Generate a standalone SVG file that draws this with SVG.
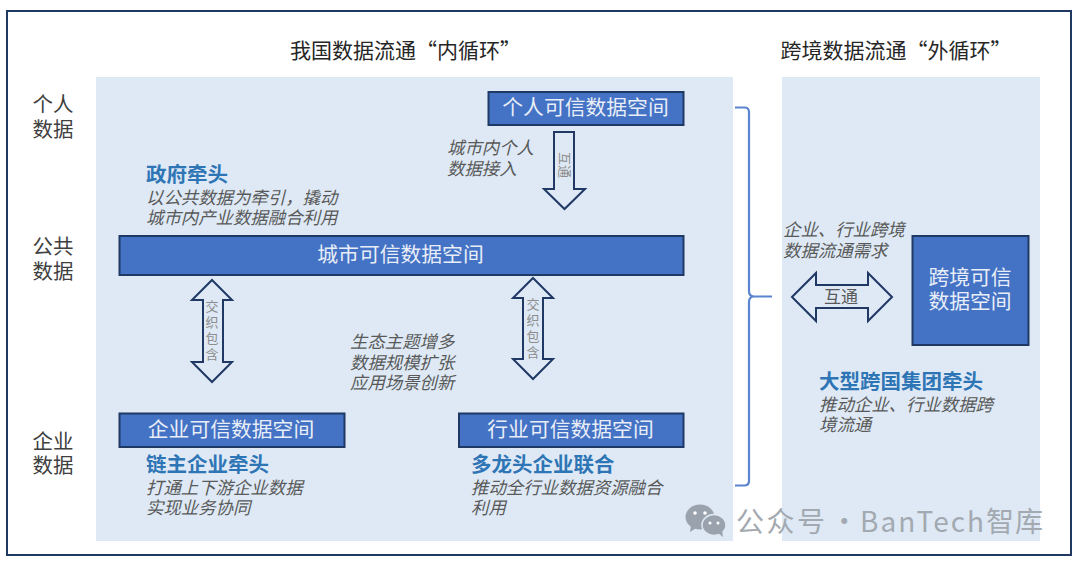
<svg xmlns="http://www.w3.org/2000/svg" width="1080" height="564" viewBox="0 0 1080 564">
<style>
text{font-family:"Noto Sans CJK SC","Noto Sans",sans-serif}
.h{font-size:21px;fill:#262626;text-anchor:middle}
.s{font-size:20.500px;fill:#404040}
.box{fill:#4472c4;stroke:#1f3864;stroke-width:2}
.bt{font-size:20.800px;fill:#e8eef8;text-anchor:middle}
.lead{font-size:20.500px;font-weight:700;fill:#2e75b6}
.it{font-size:17.400px;font-style:italic;fill:#595959}
.ar{fill:#dee9f5;stroke:#1f3864;stroke-width:2}
.al{font-size:13px;fill:#8c8c8c;text-anchor:middle}
</style>
<rect width="1080" height="564" fill="#fff"/>
<rect x="7" y="11" width="1064" height="544" fill="#fff" stroke="#1f3864" stroke-width="2"/>
<g id="inner-panel"><rect x="96" y="77" width="637" height="464" fill="#dee9f5"/></g>
<g id="outer-panel"><rect x="782" y="77" width="258" height="464" fill="#dee9f5"/></g>
<g id="headings">
<text class="h" x="405.500" y="58">我国数据流通“内循环”</text>
<text class="h" x="896" y="58">跨境数据流通“外循环”</text>
<text class="s" x="32.500" y="112">个人<tspan x="32.500" dy="25">数据</tspan></text>
<text class="s" x="32.500" y="254">公共<tspan x="32.500" dy="25">数据</tspan></text>
<text class="s" x="32.500" y="449">企业<tspan x="32.500" dy="24">数据</tspan></text>
</g>
<g id="personal-space"><rect class="box" x="488.500" y="92" width="195" height="33"/><text class="bt" x="585.500" y="115">个人可信数据空间</text></g>
<g id="city-space"><rect class="box" x="119.500" y="236" width="564" height="39"/><text class="bt" x="400.500" y="262">城市可信数据空间</text></g>
<g id="enterprise-space"><rect class="box" x="119.500" y="413.500" width="225" height="33.500"/><text class="bt" x="231" y="437">企业可信数据空间</text></g>
<g id="industry-space"><rect class="box" x="459" y="413.500" width="224.500" height="33.500"/><text class="bt" x="570.500" y="437">行业可信数据空间</text></g>
<g id="cross-border-space"><rect class="box" x="912.500" y="236" width="116" height="109"/><text class="bt" x="970" y="285">跨境可信<tspan x="970" dy="24">数据空间</tspan></text></g>
<g id="connectors">
<path d="M735 107.500H745Q749 108 749 112V291Q749 296.500 754 296.500H772M754 296.500Q749 296.500 749 302V481Q749 485 745 485.500H735" fill="none" stroke="#5b83cf" stroke-width="2.200"/>
<path class="ar" d="M554 132H574V189H585L564.500 209L544 189H554Z"/>
<path class="ar" d="M212 280L232 300H223V362H232L212 382L192 362H203V300H192Z"/>
<path class="ar" d="M533 278L553 298H543V359H553L533 379L513 359H523V298H513Z"/>
<path class="ar" d="M792 297L816 273V285H868V273L892 297L868 321V308H816V321Z"/>
<text class="al" transform="translate(564.500 165) rotate(90)" x="0" y="4.500">互通</text>
<text class="al" x="212" y="311">交<tspan x="212" dy="16">织</tspan><tspan x="212" dy="16">包</tspan><tspan x="212" dy="16">含</tspan></text>
<text class="al" x="533" y="309">交<tspan x="533" dy="16">织</tspan><tspan x="533" dy="16">包</tspan><tspan x="533" dy="16">含</tspan></text>
<text x="841" y="303" font-size="17" fill="#595959" text-anchor="middle">互通</text>
</g>
<g id="annotations">
<text class="it" x="447" y="154">城市内个人<tspan x="447" dy="21">数据接入</tspan></text>
<text class="lead" x="146" y="182">政府牵头</text>
<text class="it" x="146" y="204">以公共数据为牵引，撬动<tspan x="146" dy="20">城市内产业数据融合利用</tspan></text>
<text class="it" x="350" y="348">生态主题增多<tspan x="350" dy="20.500">数据规模扩张</tspan><tspan x="350" dy="20.500">应用场景创新</tspan></text>
<text class="lead" x="146" y="472">链主企业牵头</text>
<text class="it" x="146" y="494">打通上下游企业数据<tspan x="146" dy="20">实现业务协同</tspan></text>
<text class="lead" x="471" y="472">多龙头企业联合</text>
<text class="it" x="471" y="494">推动全行业数据资源融合<tspan x="471" dy="20">利用</tspan></text>
<text class="it" x="783" y="236">企业、行业跨境<tspan x="783" dy="20.500">数据流通需求</tspan></text>
<text class="lead" x="819" y="389">大型跨国集团牵头</text>
<text class="it" x="819" y="411">推动企业、行业数据跨<tspan x="819" dy="20">境流通</tspan></text>
</g>
<g id="watermark">
<ellipse cx="700" cy="517" rx="14.500" ry="12.500" fill="#9aa3ad"/><path d="M691 525L690 532L698 527Z" fill="#9aa3ad"/>
<ellipse cx="714" cy="525" rx="12" ry="10.500" fill="#9aa3ad" stroke="#dee9f5" stroke-width="1.500"/><path d="M718 533L723 537L722 530Z" fill="#9aa3ad"/>
<circle cx="695" cy="513" r="1.800" fill="#fff"/><circle cx="705" cy="513" r="1.800" fill="#fff"/><circle cx="710" cy="523" r="1.500" fill="#fff"/><circle cx="718" cy="523" r="1.500" fill="#fff"/>
<text x="736" y="532" font-size="28" fill="#a3a9b0"><tspan letter-spacing="2.500">公众号</tspan><tspan x="824"> ·</tspan><tspan x="860" letter-spacing="2">BanTech</tspan><tspan letter-spacing="1">智库</tspan></text>
</g>
</svg>
